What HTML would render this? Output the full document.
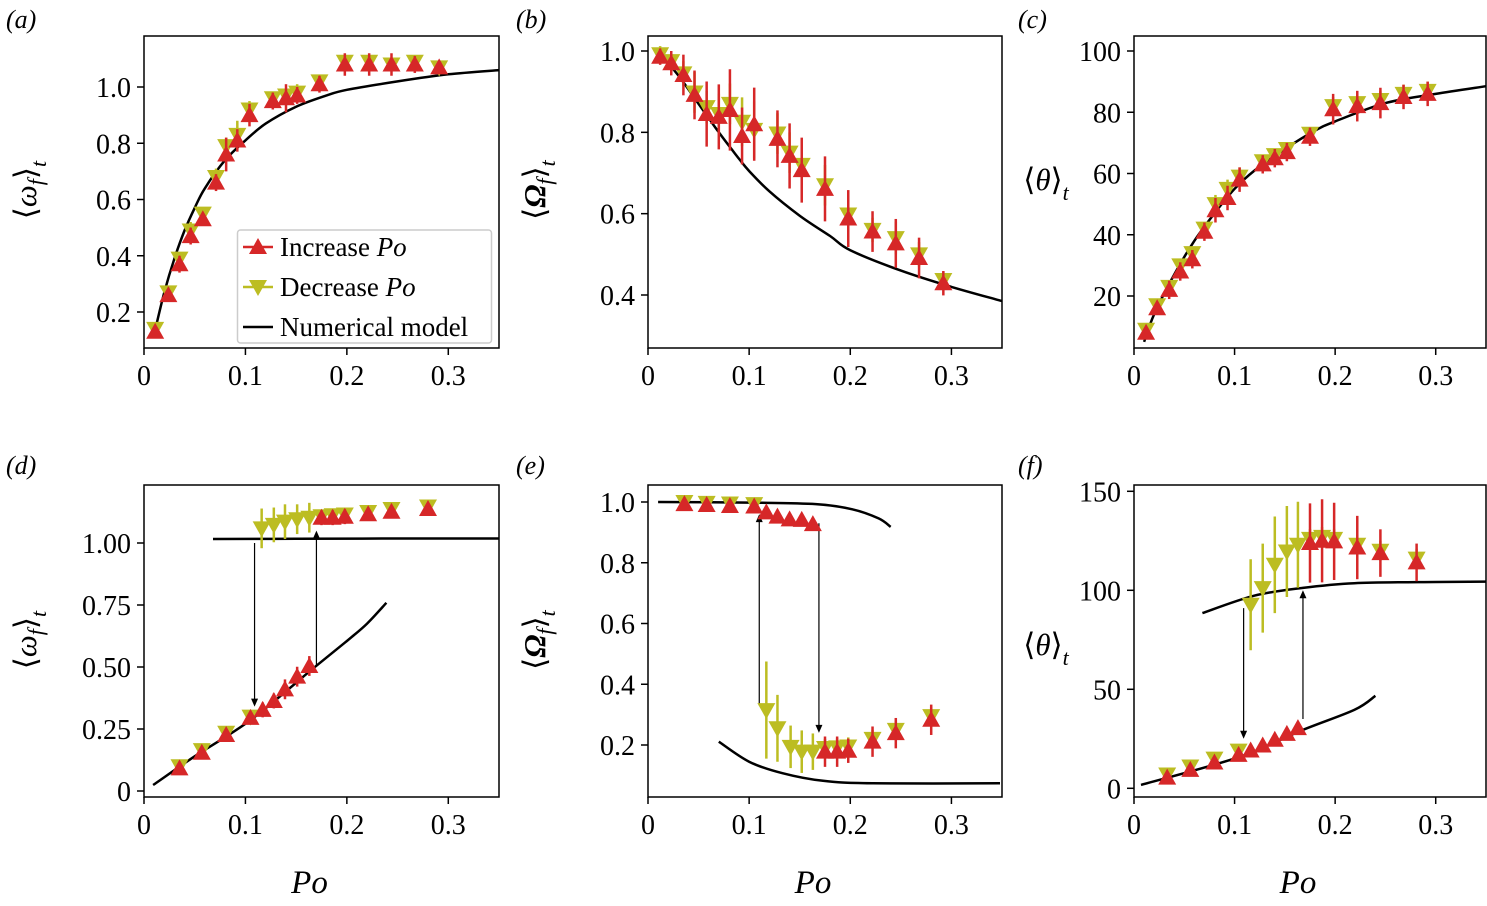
<!DOCTYPE html>
<html><head><meta charset="utf-8"><style>
body{margin:0;background:#fff;}
svg{display:block;font-family:"Liberation Serif",serif;}
</style></head><body>
<svg id="fig" width="1487" height="906" viewBox="0 0 1487 906"></svg>
<script>
// ---- data arrays ----
const xTicks=[0,0.1,0.2,0.3];
const xTickLabels=["0","0.1","0.2","0.3"];
// panel a
const aPo=[0.011,0.024,0.035,0.046,0.058,0.071,0.081,0.092,0.104,0.127,0.140,0.151,0.173,0.198,0.222,0.244,0.267,0.291];
const aInc=[0.13,0.26,0.37,0.47,0.53,0.66,0.76,0.81,0.90,0.95,0.96,0.97,1.01,1.08,1.08,1.08,1.08,1.07];
const aIncErr=[0.01,0.01,0.03,0.03,0.02,0.03,0.06,0.04,0.04,0.03,0.05,0.03,0.03,0.04,0.04,0.04,0.03,0.02];
const aDec=[0.14,0.27,0.39,0.49,0.55,0.68,0.79,0.83,0.92,0.96,0.97,0.98,1.02,1.09,1.09,1.08,1.09,1.07];
const aDecErr=[0.01,0.01,0.02,0.03,0.02,0.03,0.03,0.05,0.03,0.02,0.02,0.03,0.02,0.02,0.02,0.02,0.02,0.02];
const aModelPo=[0.01,0.02,0.03,0.04,0.05,0.06,0.08,0.10,0.12,0.15,0.18,0.20,0.25,0.30,0.35];
const aModel=[0.12,0.27,0.39,0.49,0.57,0.64,0.74,0.81,0.87,0.93,0.97,0.99,1.02,1.045,1.06];
const aYTicks=[0.2,0.4,0.6,0.8,1.0];
const aYTickLabels=["0.2","0.4","0.6","0.8","1.0"];
// panel b
const bPo=[0.012,0.023,0.035,0.046,0.058,0.070,0.081,0.093,0.105,0.128,0.140,0.152,0.175,0.198,0.222,0.245,0.268,0.292];
const bInc=[0.986,0.970,0.941,0.892,0.845,0.838,0.855,0.791,0.820,0.784,0.742,0.707,0.661,0.588,0.556,0.527,0.491,0.429];
const bIncErr=[0.02,0.03,0.05,0.06,0.08,0.08,0.10,0.07,0.09,0.07,0.08,0.08,0.08,0.07,0.05,0.06,0.05,0.03];
const bDec=[0.992,0.975,0.945,0.898,0.862,0.845,0.870,0.826,0.806,0.797,0.750,0.720,0.670,0.598,0.560,0.540,0.500,0.437];
const bDecErr=[0.02,0.02,0.03,0.05,0.04,0.05,0.05,0.06,0.07,0.05,0.05,0.05,0.05,0.04,0.03,0.04,0.03,0.02];
const bModelPo=[0.01,0.03,0.05,0.07,0.09,0.10,0.12,0.15,0.18,0.20,0.25,0.30,0.35];
const bModel=[1.0,0.94,0.87,0.80,0.735,0.705,0.655,0.595,0.545,0.51,0.46,0.42,0.385];
const bYTicks=[0.4,0.6,0.8,1.0];
const bYTickLabels=["0.4","0.6","0.8","1.0"];
// panel c
const cPo=[0.012,0.023,0.035,0.046,0.058,0.070,0.081,0.093,0.105,0.128,0.140,0.152,0.175,0.198,0.222,0.245,0.268,0.292];
const cInc=[8,16,22,28,32,41,48,52,58,63,65,67,72,81,82,83,85,86];
const cIncErr=[2,2,3,3,3,3,4,4,4,3,3,3,3,5,5,5,4,4];
const cDec=[9,17,23,30,34,42,50,55,59,64,66,68,73,82,83,84,86,87];
const cDecErr=[2,2,2,2,2,2,3,3,3,2,2,2,2,3,3,3,3,3];
const cModelPo=[0.01,0.02,0.04,0.06,0.08,0.10,0.12,0.15,0.18,0.20,0.25,0.30,0.35];
const cModel=[5,14,27,38,47,55,61,68,74,77,83,86,88.5];
const cYTicks=[20,40,60,80,100];
const cYTickLabels=["20","40","60","80","100"];
// panel d
const dLoPo=[0.035,0.057,0.081,0.105,0.117,0.128,0.139,0.151,0.163];
const dLoInc=[0.091,0.154,0.226,0.295,0.327,0.363,0.410,0.461,0.504];
const dLoErr=[0.01,0.01,0.01,0.02,0.03,0.03,0.04,0.04,0.04];
const dLoDecPo=[0.035,0.057,0.081,0.105];
const dLoDec=[0.10,0.165,0.235,0.30];
const dHiPo=[0.175,0.186,0.198,0.221,0.244,0.280];
const dHiInc=[1.102,1.102,1.106,1.116,1.126,1.137];
const dHiErr=[0.03,0.03,0.03,0.02,0.02,0.02];
const dDecPo=[0.116,0.128,0.139,0.151,0.163,0.175,0.186,0.198,0.221,0.244,0.280];
const dDec=[1.059,1.073,1.086,1.096,1.102,1.108,1.112,1.115,1.125,1.137,1.147];
const dDecErr=[0.08,0.07,0.07,0.06,0.06,0.02,0.02,0.02,0.02,0.02,0.02];
const dModelHiPo=[0.068,0.15,0.25,0.35];
const dModelHi=[1.016,1.017,1.018,1.018];
const dModelLoPo=[0.009,0.05,0.105,0.167,0.20,0.22,0.239];
const dModelLo=[0.024,0.14,0.286,0.495,0.605,0.675,0.759];
const dArrowPo=[0.109,0.170];
const dArrowFrom=[1.0,0.50];
const dArrowTo=[0.34,1.05];
const dYTicks=[0,0.25,0.5,0.75,1.0];
const dYTickLabels=["0","0.25","0.50","0.75","1.00"];
// panel e
const eHiPo=[0.036,0.058,0.081,0.105,0.117,0.128,0.140,0.152,0.163];
const eHiInc=[0.993,0.990,0.987,0.985,0.966,0.952,0.943,0.941,0.927];
const eHiDecPo=[0.036,0.058,0.081,0.105];
const eHiDec=[1.0,0.997,0.995,0.993];
const eLoPo=[0.175,0.187,0.198,0.222,0.245,0.280];
const eLoInc=[0.178,0.178,0.181,0.211,0.239,0.283];
const eLoErr=[0.05,0.05,0.04,0.05,0.05,0.05];
const eDecPo=[0.117,0.128,0.141,0.152,0.163,0.175,0.187,0.198,0.222,0.245,0.280];
const eDec=[0.315,0.255,0.194,0.178,0.178,0.19,0.192,0.195,0.22,0.25,0.295];
const eDecErr=[0.16,0.11,0.07,0.07,0.06,0.03,0.03,0.03,0.03,0.03,0.03];
const eModelHiPo=[0.01,0.10,0.166,0.202,0.228,0.240];
const eModelHi=[1.0,0.998,0.993,0.976,0.946,0.918];
const eModelLoPo=[0.070,0.100,0.133,0.173,0.222,0.348];
const eModelLo=[0.211,0.145,0.107,0.082,0.074,0.074];
const eArrowPo=[0.110,0.169];
const eArrowFrom=[0.33,0.93];
const eArrowTo=[0.96,0.24];
const eYTicks=[0.2,0.4,0.6,0.8,1.0];
const eYTickLabels=["0.2","0.4","0.6","0.8","1.0"];
// panel f
const fLoPo=[0.033,0.056,0.080,0.104,0.116,0.128,0.140,0.152,0.163];
const fLoInc=[5.4,9.3,13,16.9,19.1,21.6,24.5,27.5,30.4];
const fLoDecPo=[0.033,0.056,0.080,0.104];
const fLoDec=[7,11,15,19];
const fHiPo=[0.175,0.187,0.199,0.222,0.245,0.281];
const fHiInc=[123.9,125,124.7,121.6,118.8,114.1];
const fHiErr=[20,21,19.5,16,12,9.5];
const fDecPo=[0.116,0.128,0.140,0.152,0.163,0.175,0.187,0.199,0.222,0.245,0.281];
const fDec=[92.7,101.1,112.9,119.6,123,126,127,126,123,120,116];
const fDecErr=[23,22.5,24.4,23,21.7,5,5,5,5,5,5];
const fModelHiPo=[0.068,0.119,0.166,0.219,0.30,0.35];
const fModelHi=[88.5,97.2,101.1,103.6,104.2,104.4];
const fModelLoPo=[0.007,0.104,0.166,0.219,0.240];
const fModelLo=[1.7,15.7,29.1,39.6,46.7];
const fArrowPo=[0.109,0.168];
const fArrowFrom=[91,35];
const fArrowTo=[25,100];
const fYTicks=[0,50,100,150];
const fYTickLabels=["0","50","100","150"];

const RED="#d62728",YEL="#bcbd22";
const svg=document.getElementById('fig');
const NS="http://www.w3.org/2000/svg";
function el(tag,attrs,parent){const e=document.createElementNS(NS,tag);for(const k in attrs)e.setAttribute(k,attrs[k]);(parent||svg).appendChild(e);return e;}

function makePanel(name,px0,px1,py0,py1,y0,v0,y1,v1){
  const sx=p=>px0+p*(px1-px0)/0.35;
  const sy=v=>y0+(v-v0)*(y1-y0)/(v1-v0);
  const g=el('g',{});
  
  
  return {sx,sy,g,px0,px1,py0,py1,name};
}
function frame(P,yTicks,yLabels){
  const f=el('rect',{x:P.px0,y:P.py0,width:P.px1-P.px0,height:P.py1-P.py0,fill:'none',stroke:'#000','stroke-width':1.5},P.g);
  
  
  xTicks.forEach((t,i)=>{
    const x=P.sx(t);
    el('line',{x1:x,x2:x,y1:P.py1,y2:P.py1+7,stroke:'#000','stroke-width':1.5},P.g);
    const tx=el('text',{x:x,y:P.py1+37,'font-size':28,'text-anchor':'middle'},P.g);
    tx.textContent=xTickLabels[i];
    
    
  });
  yTicks.forEach((t,i)=>{
    const y=P.sy(t);
    el('line',{x1:P.px0-7,x2:P.px0,y1:y,y2:y,stroke:'#000','stroke-width':1.5},P.g);
    const tx=el('text',{x:P.px0-13,y:y+10,'font-size':28,'text-anchor':'end'},P.g);
    tx.textContent=yLabels[i];
    
    
  });
}
function line(P,xs,ys){
  const pts=xs.map((p,i)=>[P.sx(p),P.sy(ys[i])]);
  let d='M'+pts[0][0].toFixed(1)+','+pts[0][1].toFixed(1);
  for(let i=0;i<pts.length-1;i++){
    const p0=pts[i-1]||pts[i],p1=pts[i],p2=pts[i+1],p3=pts[i+2]||p2;
    const c1=[p1[0]+(p2[0]-p0[0])/6,p1[1]+(p2[1]-p0[1])/6];
    const c2=[p2[0]-(p3[0]-p1[0])/6,p2[1]-(p3[1]-p1[1])/6];
    d+=`C${c1[0].toFixed(1)},${c1[1].toFixed(1)} ${c2[0].toFixed(1)},${c2[1].toFixed(1)} ${p2[0].toFixed(1)},${p2[1].toFixed(1)}`;
  }
  const l=el('path',{d:d,fill:'none',stroke:'#000','stroke-width':2.5},P.g);
  
  
}
function tri(P,x,y,up,col){
  const pts=up?`${x-9},${y+7} ${x+9},${y+7} ${x},${y-9}`:`${x-9},${y-7} ${x+9},${y-7} ${x},${y+9}`;
  return el('polygon',{points:pts,fill:col},P.g);
}
function series(P,xs,ys,errs,up,col,nm){
  xs.forEach((p,i)=>{
    const x=P.sx(p);
    if(errs){const e=errs[i];
      const b=el('line',{x1:x,x2:x,y1:P.sy(ys[i]-e),y2:P.sy(ys[i]+e),stroke:col,'stroke-width':2.5},P.g);
      
      
    }
  });
  xs.forEach((p,i)=>{
    const m=tri(P,P.sx(p),P.sy(ys[i]),up,col);
    
    
  });
}
function arrows(P,xs,from,to){
  xs.forEach((p,i)=>{
    const x=P.sx(p),ya=P.sy(from[i]),yb=P.sy(to[i]);
    const dir=yb>ya?1:-1;
    const a=el('line',{x1:x,x2:x,y1:ya,y2:yb-dir*6,stroke:'#000','stroke-width':1.2},P.g);
    
    
    el('polygon',{points:`${x-3.5},${yb-dir*8} ${x+3.5},${yb-dir*8} ${x},${yb}`,fill:'#000'},P.g);
  });
}
function label(txt,x,y){
  const t=el('text',{x:x,y:y,'font-size':26,'font-style':'italic'});
  t.textContent=txt;
  
  
}
function ylabel(P,sym,bold,x,y,rot){
  const t=el('text',{x:x,y:y,'font-size':31,'text-anchor':'middle',transform:rot?`rotate(-90 ${x} ${y})`:''},P.g);
  
  
  const a=el('tspan',{},t);a.textContent='⟨';
  const b=el('tspan',{'font-style':'italic','font-weight':bold?'bold':'normal'},t);b.textContent=sym;
  if(sym!=='θ'){const c=el('tspan',{'font-style':'italic','font-size':22,dy:7},t);c.textContent='f';
    const d=el('tspan',{dy:-7},t);d.textContent='⟩';}
  else {const d=el('tspan',{},t);d.textContent='⟩';}
  const e=el('tspan',{'font-style':'italic','font-size':22,dy:10},t);e.textContent='t';
}
function xlabel(P){
  const t=el('text',{x:(P.px0+P.px1)/2-12,y:893,'font-size':33,'font-style':'italic','text-anchor':'middle'},P.g);
  t.textContent='Po';
  
  
}

// Panel a
const A=makePanel('panel-a',144,499,36,348,87,1.0,312,0.2);
frame(A,aYTicks,aYTickLabels);
line(A,aModelPo,aModel);
series(A,aPo,aDec,aDecErr,false,YEL,'decrease');
series(A,aPo,aInc,aIncErr,true,RED,'increase');
ylabel(A,'ω',false,36,190,true);
label('(a)',6,28);
(function(){
  const lg=el('g',{},A.g);
  
  
  el('rect',{x:237.5,y:230,width:254,height:113,rx:3,fill:'#fff',stroke:'#ccc','stroke-width':1.5},lg);
  const rows=[['Increase ','Po',RED,true],['Decrease ','Po',YEL,false],['Numerical model','', '#000',null]];
  rows.forEach((r,i)=>{
    const y=247+i*40;
    const g=el('g',{},lg);
    
    
    el('line',{x1:243,x2:273,y1:y,y2:y,stroke:r[2],'stroke-width':2.5},g);
    if(r[3]!==null) el('polygon',{points:r[3]?`249,${y+7} 267,${y+7} 258,${y-9}`:`249,${y-7} 267,${y-7} 258,${y+9}`,fill:r[2]},g);
    const t=el('text',{x:280,y:y+9,'font-size':27},g);
    t.appendChild(document.createTextNode(r[0]));
    if(r[1]){const s=el('tspan',{'font-style':'italic'},t);s.textContent=r[1];}
  });
})();

// Panel b
const B=makePanel('panel-b',648,1002,36,348,51,1.0,295,0.4);
frame(B,bYTicks,bYTickLabels);
line(B,bModelPo,bModel);
series(B,bPo,bDec,bDecErr,false,YEL,'decrease');
series(B,bPo,bInc,bIncErr,true,RED,'increase');
ylabel(B,'Ω',true,545,190,true);
label('(b)',516,28);

// Panel c
const C=makePanel('panel-c',1134,1486,36,348,51,100,296,20);
frame(C,cYTicks,cYTickLabels);
line(C,cModelPo,cModel);
series(C,cPo,cDec,cDecErr,false,YEL,'decrease');
series(C,cPo,cInc,cIncErr,true,RED,'increase');
ylabel(C,'θ',false,1046,190,false);
label('(c)',1018,28);

// Panel d
const D=makePanel('panel-d',144,499,485,797,543,1.0,791,0);
frame(D,dYTicks,dYTickLabels);
line(D,dModelHiPo,dModelHi);line(D,dModelLoPo,dModelLo);
arrows(D,dArrowPo,dArrowFrom,dArrowTo);
series(D,dLoDecPo,dLoDec,null,false,YEL,'decrease');
series(D,dDecPo,dDec,dDecErr,false,YEL,'decrease');
series(D,dLoPo,dLoInc,dLoErr,true,RED,'increase');
series(D,dHiPo,dHiInc,dHiErr,true,RED,'increase');
ylabel(D,'ω',false,36,640,true);
xlabel(D);
label('(d)',6,474);

// Panel e
const E=makePanel('panel-e',648,1002,485,797,502,1.0,745,0.2);
frame(E,eYTicks,eYTickLabels);
line(E,eModelHiPo,eModelHi);line(E,eModelLoPo,eModelLo);
arrows(E,eArrowPo,eArrowFrom,eArrowTo);
series(E,eHiDecPo,eHiDec,null,false,YEL,'decrease');
series(E,eDecPo,eDec,eDecErr,false,YEL,'decrease');
series(E,eHiPo,eHiInc,null,true,RED,'increase');
series(E,eLoPo,eLoInc,eLoErr,true,RED,'increase');
ylabel(E,'Ω',true,545,640,true);
xlabel(E);
label('(e)',516,474);

// Panel f
const F=makePanel('panel-f',1134,1486,485,797,689.3,50,788.3,0);
frame(F,fYTicks,fYTickLabels);
line(F,fModelHiPo,fModelHi);line(F,fModelLoPo,fModelLo);
arrows(F,fArrowPo,fArrowFrom,fArrowTo);
series(F,fLoDecPo,fLoDec,null,false,YEL,'decrease');
series(F,fDecPo,fDec,fDecErr,false,YEL,'decrease');
series(F,fLoPo,fLoInc,null,true,RED,'increase');
series(F,fHiPo,fHiInc,fHiErr,true,RED,'increase');
ylabel(F,'θ',false,1046,655,false);
xlabel(F);
label('(f)',1018,474);
</script>
</body></html>
